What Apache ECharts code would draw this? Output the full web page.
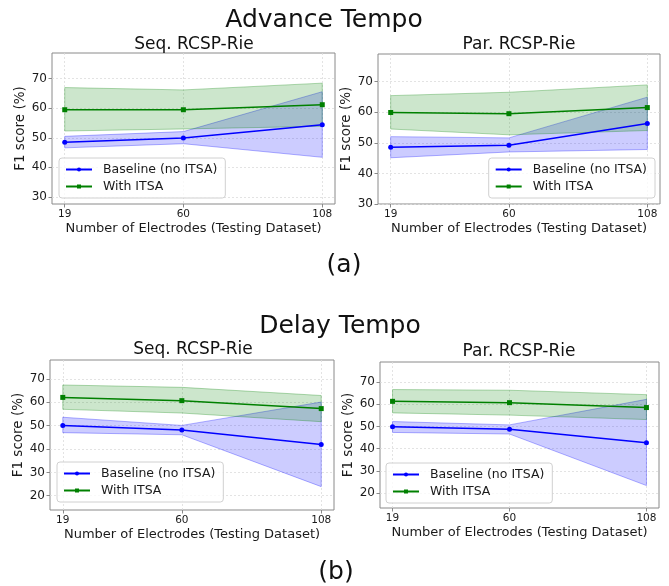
<!DOCTYPE html>
<html>
<head>
<meta charset="utf-8">
<script src="https://cdn.jsdelivr.net/npm/echarts@6/dist/echarts.min.js"></script>
<style>
  html, body { margin: 0; padding: 0; background: #fff; }
  #chart { width: 669px; height: 586px; }
</style>
</head>
<body>
<div id="chart"></div>
<script>
// x positions (number of electrodes)
const electrodes = [19, 60, 108];
const yTicksAdvance = [30, 40, 50, 60, 70];
const yTicksDelay = [20, 30, 40, 50, 60, 70];

// Advance Tempo - Seq. RCSP-Rie
const advSeqBase = [48.5, 49.9, 54.4];
const advSeqBaseLo = [46.6, 48.0, 43.4];
const advSeqBaseHi = [50.5, 52.1, 65.6];
const advSeqItsa = [59.5, 59.5, 61.2];
const advSeqItsaLo = [52.3, 53.0, 53.9];
const advSeqItsaHi = [67.0, 66.2, 68.5];

// Advance Tempo - Par. RCSP-Rie
const advParBase = [48.5, 49.2, 56.3];
const advParBaseLo = [45.1, 47.0, 47.8];
const advParBaseHi = [52.0, 51.6, 64.9];
const advParItsa = [59.9, 59.5, 61.5];
const advParItsaLo = [54.5, 52.6, 54.0];
const advParItsaHi = [65.4, 66.5, 68.9];

// Delay Tempo - Seq. RCSP-Rie
const delSeqBase = [50.1, 48.1, 41.9];
const delSeqBaseLo = [47.0, 46.1, 23.9];
const delSeqBaseHi = [53.6, 50.1, 60.1];
const delSeqItsa = [62.1, 60.7, 57.3];
const delSeqItsaLo = [57.0, 55.4, 51.7];
const delSeqItsaHi = [67.4, 66.4, 62.9];

// Delay Tempo - Par. RCSP-Rie
const delParBase = [49.9, 48.7, 42.7];
const delParBaseLo = [47.3, 46.6, 23.4];
const delParBaseHi = [52.2, 50.7, 62.2];
const delParItsa = [61.3, 60.7, 58.5];
const delParItsaLo = [56.1, 55.1, 53.1];
const delParItsaHi = [66.6, 66.3, 64.3];

const FONT = "'DejaVu Sans', sans-serif";
const BLUE = '#0000ff';
const GREEN = '#008000';
const BASE_NAME = 'Baseline (no ITSA)';
const ITSA_NAME = 'With ITSA';

const panels = [
  { grid: { left: 52, top: 53, width: 283, height: 151 }, ymin: 27.6, ymax: 78.7, ticks: yTicksAdvance,
    legend: { left: 59, top: 158 },
    d: [advSeqBase, advSeqBaseLo, advSeqBaseHi, advSeqItsa, advSeqItsaLo, advSeqItsaHi] },
  { grid: { left: 378, top: 54, width: 282, height: 150 }, ymin: 30, ymax: 79, ticks: yTicksAdvance,
    legend: { right: 14, top: 158 },
    d: [advParBase, advParBaseLo, advParBaseHi, advParItsa, advParItsaLo, advParItsaHi] },
  { grid: { left: 50, top: 360, width: 284, height: 150 }, ymin: 13.9, ymax: 78.1, ticks: yTicksDelay,
    legend: { left: 57, top: 462 },
    d: [delSeqBase, delSeqBaseLo, delSeqBaseHi, delSeqItsa, delSeqItsaLo, delSeqItsaHi] },
  { grid: { left: 380, top: 362, width: 279, height: 146 }, ymin: 13.3, ymax: 79, ticks: yTicksDelay,
    legend: { left: 386, top: 463 },
    d: [delParBase, delParBaseLo, delParBaseHi, delParItsa, delParItsaLo, delParItsaHi] }
];

const pts = (ys) => electrodes.map((x, i) => [x, ys[i]]);

// shaded band between lo and hi, drawn as one polygon through the axis scales
function band(idx, name, lo, hi, rgb) {
  const data = electrodes.map((x, i) => [x, lo[i], hi[i]]);
  return {
    type: 'custom', name, xAxisIndex: idx, yAxisIndex: idx, silent: true, z: 1,
    data,
    encode: { x: 0, y: [1, 2] },
    renderItem: (params, api) => {
      if (params.dataIndex !== 0) return null;
      const upper = data.map(d => api.coord([d[0], d[2]]));
      const lower = data.map(d => api.coord([d[0], d[1]])).reverse();
      return {
        type: 'polygon',
        shape: { points: upper.concat(lower) },
        style: { fill: `rgba(${rgb},0.2)`, stroke: `rgba(${rgb},0.3)`, lineWidth: 1 }
      };
    }
  };
}

const grids = [], xAxes = [], yAxes = [], series = [], legends = [];
panels.forEach((p, i) => {
  grids.push(Object.assign({ show: true, borderColor: '#8a8a8a', borderWidth: 1, backgroundColor: 'transparent' }, p.grid));
  xAxes.push({
    type: 'value', gridIndex: i, min: 14.6, max: 112.4,
    name: 'Number of Electrodes (Testing Dataset)', nameLocation: 'middle', nameGap: 18,
    nameTextStyle: { fontFamily: FONT, fontSize: 13, color: '#1a1a1a' },
    axisLine: { show: false },
    axisTick: { show: true, length: 3.5, lineStyle: { color: '#8a8a8a' }, customValues: electrodes },
    axisLabel: { fontFamily: FONT, fontSize: 10.5, color: '#1a1a1a', margin: 5, customValues: electrodes },
    splitLine: { show: true, lineStyle: { color: '#dcdcdc', type: [2, 2], width: 0.8 } }
  });
  yAxes.push({
    type: 'value', gridIndex: i, min: p.ymin, max: p.ymax,
    name: 'F1 score (%)', nameLocation: 'middle', nameGap: 24, nameRotate: 90,
    nameTextStyle: { fontFamily: FONT, fontSize: 13.5, color: '#1a1a1a' },
    axisLine: { show: false },
    axisTick: { show: true, length: 3.5, lineStyle: { color: '#8a8a8a' }, customValues: p.ticks },
    axisLabel: { fontFamily: FONT, fontSize: 12, color: '#1a1a1a', margin: 5, customValues: p.ticks },
    splitLine: { show: true, lineStyle: { color: '#dcdcdc', type: [2, 2], width: 0.8 } }
  });
  const [b, bLo, bHi, t, tLo, tHi] = p.d;
  series.push(band(i, 'baseBand' + i, bLo, bHi, '0,0,255'));
  series.push(band(i, 'itsaBand' + i, tLo, tHi, '0,128,0'));
  series.push({
    type: 'line', name: BASE_NAME, xAxisIndex: i, yAxisIndex: i, data: pts(b),
    symbol: 'circle', symbolSize: 5, itemStyle: { color: BLUE }, lineStyle: { color: BLUE, width: 1.5 }, z: 3
  });
  series.push({
    type: 'line', name: ITSA_NAME, xAxisIndex: i, yAxisIndex: i, data: pts(t),
    symbol: 'rect', symbolSize: 5, itemStyle: { color: GREEN }, lineStyle: { color: GREEN, width: 1.5 }, z: 3
  });
  legends.push(Object.assign({
    data: [BASE_NAME, ITSA_NAME], orient: 'vertical', itemWidth: 26, itemHeight: 5, itemGap: 4,
    padding: [5, 8, 5, 6], backgroundColor: 'rgba(255,255,255,0.8)', borderColor: '#d0d0d0',
    borderWidth: 1, borderRadius: 3, selectedMode: false,
    textStyle: { fontFamily: FONT, fontSize: 12.5, color: '#1a1a1a', padding: [0, 0, 0, 6] }
  }, p.legend));
});

const txt = (text, x, y, size) => ({
  type: 'text', x, y,
  style: { text, fontFamily: FONT, fontSize: size, fill: '#111', textAlign: 'center', textVerticalAlign: 'middle' }
});

const chart = echarts.init(document.getElementById('chart'));
chart.setOption({
  animation: false,
  grid: grids,
  xAxis: xAxes,
  yAxis: yAxes,
  legend: legends,
  series: series,
  graphic: [
    txt('Advance Tempo', 324, 20, 25),
    txt('Seq. RCSP-Rie', 194, 45, 17),
    txt('Par. RCSP-Rie', 519, 45, 17),
    txt('(a)', 344, 265, 25),
    txt('Delay Tempo', 340, 326, 25),
    txt('Seq. RCSP-Rie', 193, 350, 17),
    txt('Par. RCSP-Rie', 519, 352, 17),
    txt('(b)', 336, 572, 25)
  ]
});
</script>
</body>
</html>
